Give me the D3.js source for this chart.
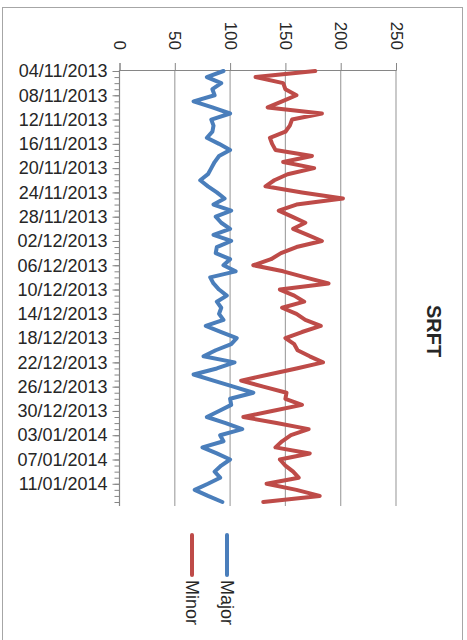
<!DOCTYPE html>
<html>
<head>
<meta charset="utf-8">
<script src="https://cdn.jsdelivr.net/npm/d3@7"></script>
<style>
  body { margin: 0; background: #fff; }
  svg { display: block; font-family: "Liberation Sans", Arial, sans-serif; }
</style>
</head>
<body>
<div id="chart"></div>
<script>
// daily counts, 04/11/2013 .. 14/01/2014
const major = [94, 79, 92, 84, 86, 67, 84, 100, 83, 85, 84, 79, 90, 100, 90, 86, 83, 80, 73, 80,
  88, 95, 85, 101, 87, 92, 100, 85, 101, 88, 87, 100, 94, 105, 82, 85, 90, 97, 88, 92,
  90, 94, 78, 92, 106, 101, 87, 76, 104, 88, 67, 85, 103, 121, 100, 101, 90, 79, 96, 111,
  91, 94, 75, 88, 100, 92, 86, 91, 80, 68, 80, 93];
const minor = [177, 123, 148, 150, 160, 147, 134, 183, 156, 154, 150, 136, 138, 141, 174, 148, 176, 152, 140, 132,
  165, 202, 160, 144, 156, 168, 157, 170, 183, 160, 146, 137, 121, 148, 168, 189, 145, 158, 167, 147,
  160, 168, 182, 165, 150, 158, 161, 172, 184, 160, 135, 110, 130, 151, 150, 165, 138, 112, 142, 171,
  155, 147, 141, 172, 145, 150, 157, 162, 133, 160, 181, 130];
const tickLabels = ["04/11/2013", "08/11/2013", "12/11/2013", "16/11/2013", "20/11/2013", "24/11/2013",
  "28/11/2013", "02/12/2013", "06/12/2013", "10/12/2013", "14/12/2013", "18/12/2013", "22/12/2013",
  "26/12/2013", "30/12/2013", "03/01/2014", "07/01/2014", "11/01/2014"];
const valueTicks = [0, 50, 100, 150, 200, 250];
const series = [
  { name: "Major", values: major, color: "#4A7EBB" },
  { name: "Minor", values: minor, color: "#BE4B48" }
];
const title = "SRFT";

const W = 467, H = 640;
const parse = d3.timeParse("%d/%m/%Y");
const fmt = d3.timeFormat("%d/%m/%Y");
const start = parse(tickLabels[0]);
const days = d3.timeDay.range(start, d3.timeDay.offset(start, major.length));

const svg = d3.select("#chart").append("svg")
  .attr("width", W)
  .attr("height", H);

svg.append("rect")
  .attr("x", 2.5).attr("y", 7.5)
  .attr("width", 460).attr("height", 660)
  .attr("fill", "#fff")
  .attr("stroke", "#a6a6a6");

// value scale runs left -> right, dates run top -> bottom (chart turned on its side)
const x = d3.scaleLinear().domain([0, 250]).range([119.5, 396]);
const y = d3.scaleTime().domain([days[0], days[days.length - 1]]).range([71, 502]);
const plotTop = 70, plotBottom = 506;

// gridlines
svg.append("g")
  .selectAll("line")
  .data(valueTicks.slice(1))
  .join("line")
  .attr("x1", d => x(d)).attr("x2", d => x(d))
  .attr("y1", plotTop).attr("y2", plotBottom)
  .attr("stroke", "#a6a6a6")
  .attr("stroke-width", 1.2);

// value axis along the top
const xAxis = svg.append("g")
  .attr("transform", `translate(0,${plotTop})`)
  .call(d3.axisTop(x).tickValues(valueTicks).tickSize(7).tickSizeOuter(7));
xAxis.select(".domain").attr("stroke", "#868686");
xAxis.selectAll(".tick line").attr("stroke", "#868686");
xAxis.selectAll(".tick text")
  .attr("transform", "rotate(90)")
  .attr("x", -20)
  .attr("y", 0)
  .attr("dy", "0.35em")
  .style("text-anchor", "end")
  .style("font-size", "17px")
  .attr("fill", "#262626");

// date axis: daily minor ticks + labelled ticks every 4 days
const dayTicks = svg.append("g")
  .attr("transform", `translate(${x(0)},0)`)
  .call(d3.axisLeft(y).tickValues(days).tickSize(5).tickFormat(""));
dayTicks.select(".domain").remove();
dayTicks.selectAll(".tick line").attr("stroke", "#868686");

const yAxis = svg.append("g")
  .attr("transform", `translate(${x(0)},0)`)
  .call(d3.axisLeft(y).tickValues(tickLabels.map(parse)).tickSize(7).tickPadding(5).tickFormat(fmt));
yAxis.select(".domain").remove();
yAxis.selectAll(".tick line").attr("stroke", "#868686");
yAxis.selectAll(".tick text")
  .style("font-size", "18px")
  .attr("fill", "#262626");

svg.append("line")
  .attr("x1", x(0)).attr("x2", x(0))
  .attr("y1", plotTop).attr("y2", plotBottom)
  .attr("stroke", "#868686")
  .attr("stroke-width", 1.2);

// series
const line = d3.line()
  .x(d => x(d.v))
  .y(d => y(d.date));

svg.append("g")
  .selectAll("path")
  .data(series)
  .join("path")
  .attr("d", s => line(s.values.map((v, i) => ({ v: v, date: days[i] }))))
  .attr("fill", "none")
  .attr("stroke", s => s.color)
  .attr("stroke-width", 4)
  .attr("stroke-linejoin", "round")
  .attr("stroke-linecap", "round");

// title
svg.append("text")
  .attr("transform", "translate(434,331) rotate(90)")
  .attr("text-anchor", "middle")
  .attr("dy", "0.35em")
  .style("font-size", "20px")
  .style("font-weight", "bold")
  .attr("fill", "#262626")
  .text(title);

// legend
const legend = svg.append("g")
  .selectAll("g")
  .data(series)
  .join("g")
  .attr("transform", (s, i) => `translate(${227 - i * 35},0)`);

legend.append("line")
  .attr("x1", 0).attr("x2", 0)
  .attr("y1", 535).attr("y2", 575)
  .attr("stroke", s => s.color)
  .attr("stroke-width", 4)
  .attr("stroke-linecap", "round");

legend.append("text")
  .attr("transform", "translate(0,580) rotate(90)")
  .attr("dy", "0.35em")
  .style("font-size", "18px")
  .attr("fill", "#262626")
  .text(s => s.name);
</script>
</body>
</html>
